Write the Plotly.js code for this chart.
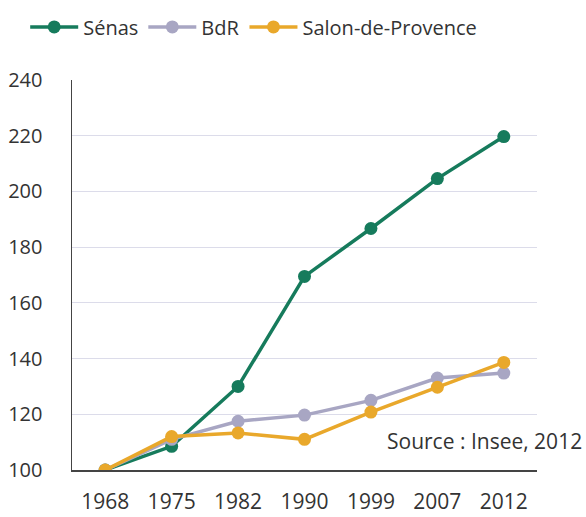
<!DOCTYPE html>
<html>
<head>
<meta charset="utf-8">
<script src="https://cdn.plot.ly/plotly-3.0.1.min.js"></script>
<style>
  html, body { margin: 0; padding: 0; background: #fff; }
  #chart { width: 586px; height: 517px; }
</style>
</head>
<body>
<div id="chart"></div>
<script>
const years = ["1968", "1975", "1982", "1990", "1999", "2007", "2012"];
const senas = [100, 108.5, 130, 169.5, 186.7, 204.6, 219.7];
const bdr = [100, 111, 117.5, 119.7, 125, 133, 134.8];
const salon = [100, 112, 113.3, 111, 120.8, 129.7, 138.6];
const yTicks = [100, 120, 140, 160, 180, 200, 220, 240];

function series(name, values, color) {
  return {
    x: years,
    y: values,
    name: name,
    type: "scatter",
    mode: "lines+markers",
    line: { color: color, width: 3.5 },
    marker: { color: color, size: 13 },
  };
}

const traces = [
  series("Sénas", senas, "#167b5c"),
  series("BdR", bdr, "#a8a6c3"),
  series("Salon-de-Provence", salon, "#e9a82b"),
];

const layout = {
  width: 586,
  height: 517,
  margin: { l: 72, r: 49, t: 80, b: 47 },
  paper_bgcolor: "#ffffff",
  plot_bgcolor: "#ffffff",
  font: { family: "Open Sans", color: "#333333", size: 20 },
  showlegend: true,
  legend: {
    orientation: "h",
    xref: "container",
    yref: "container",
    x: 0.043,
    xanchor: "left",
    y: 0.948,
    yanchor: "middle",
    font: { size: 20, color: "#333333" },
    itemwidth: 48,
    tracegroupgap: 0,
  },
  xaxis: {
    type: "category",
    range: [-0.5, 6.5],
    showgrid: false,
    showline: true,
    linecolor: "#444444",
    linewidth: 1.5,
    ticks: "",
    ticklabelstandoff: 12,
    tickfont: { size: 21, color: "#333333" },
    fixedrange: true,
  },
  yaxis: {
    range: [100, 240],
    tickvals: yTicks,
    showgrid: true,
    gridcolor: "#dcdcea",
    gridwidth: 1,
    showline: true,
    linecolor: "#444444",
    linewidth: 1.5,
    zeroline: false,
    ticks: "",
    ticklabelstandoff: 24,
    tickfont: { size: 20, color: "#333333" },
    fixedrange: true,
  },
  annotations: [{
    text: "Source : Insee, 2012",
    xref: "paper",
    yref: "paper",
    x: 1.1,
    xanchor: "right",
    y: 0.075,
    yanchor: "middle",
    showarrow: false,
    font: { size: 21, color: "#333333" },
  }],
};

Plotly.newPlot("chart", traces, layout, { displayModeBar: false, staticPlot: true });
</script>
</body>
</html>
